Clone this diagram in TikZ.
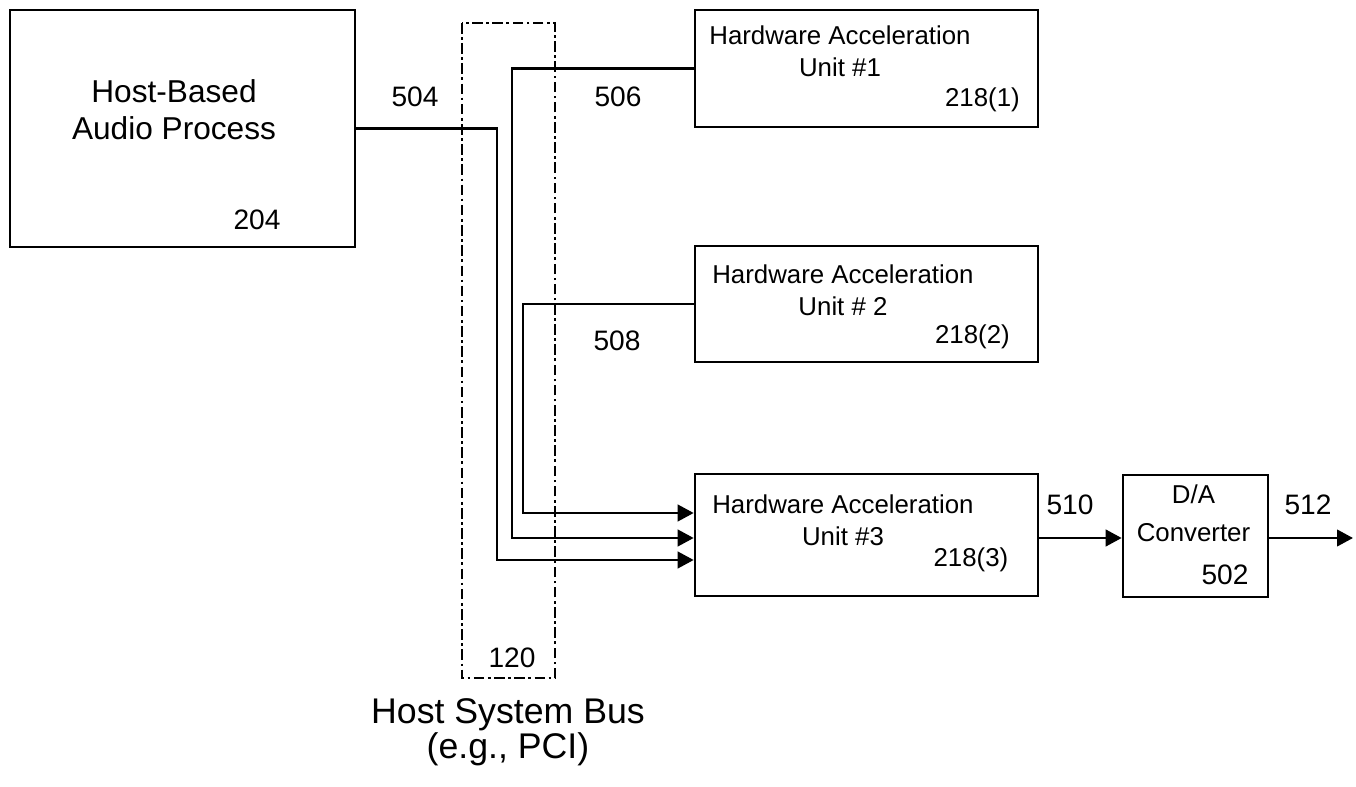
\documentclass[tikz,border=0pt]{standalone}
\usepackage{fontspec}
\setmainfont{Liberation Sans}
\usepackage{tikz}
\usetikzlibrary{positioning, calc, arrows.meta}
\tikzset{
	arrow/.style={line width=1.5pt, -{Triangle[length=3.2mm,width=3.3mm]}},
	box/.style={draw, line width=1.5pt, inner sep=0pt},
	boxtext/.style={font=\fontsize{14.7}{18}\selectfont, align=center},
	num/.style={font=\fontsize{16}{18}\selectfont},
}

\begin{document}
\begin{tikzpicture}
			\useasboundingbox (0,0) rectangle (27.12,15.72);

			% blocks
			\node[box, minimum width=6.9cm, minimum height=4.74cm] (host) at (3.65,13.15) {};
			\node[align=center, font=\fontsize{18}{21}\selectfont] (hosttxt) at (3.48,13.52) {Host-Based\\Audio Process};
			\node[num] (n204) at (5.14,11.32) {204};

			\node[box, minimum width=6.86cm, minimum height=2.34cm] (hau1) at (17.33,14.35) {};
			\node[boxtext] (hau1txt) at (16.8,14.7) {Hardware Acceleration\\Unit \#1};
			\node[boxtext, anchor=east] (n2181) at (20.52,13.72) {218(1)};

			\node[box, minimum width=6.86cm, minimum height=2.32cm] (hau2) at (17.33,9.64) {};
			\node[boxtext] (hau2txt) at (16.86,9.92) {Hardware Acceleration\\Unit \# 2};
			\node[boxtext, anchor=east] (n2182) at (20.32,8.98) {218(2)};

			\node[box, minimum width=6.86cm, minimum height=2.44cm] (hau3) at (17.33,5.02) {};
			\node[boxtext] (hau3txt) at (16.86,5.32) {Hardware Acceleration\\Unit \#3};
			\node[boxtext, anchor=east] (n2183) at (20.29,4.52) {218(3)};

			\node[box, minimum width=2.9cm, minimum height=2.44cm] (da) at (23.91,5.0) {};
			\node[boxtext, font=\fontsize{14.7}{21.5}\selectfont] (datxt) at (23.87,5.46) {D/A\\Converter};
			\node[num] (n502) at (24.5,4.22) {502};

			% host system bus
			\draw[line width=1.5pt, dash pattern=on 6pt off 2pt on 1.5pt off 2pt] (9.24,15.26) rectangle (11.1,2.16);
			\node[num] (n120) at (10.24,2.56) {120};
			\node[align=center, font=\fontsize{20.3}{18}\selectfont] (bustxt) at (10.16,1.08) {Host System Bus\\(e.g., PCI)};

			% bus lines
			\coordinate (x504) at (9.94,0);
			\coordinate (x506) at (10.24,0);
			\coordinate (x508) at (10.46,0);
			\coordinate (in1) at ($(hau3.west)+(0,0.44)$);
			\coordinate (in2) at ($(hau3.west)+(0,-0.06)$);
			\coordinate (in3) at ($(hau3.west)+(0,-0.5)$);
			\coordinate (out) at (27.06,4.96);

			\draw[arrow] (host.east) -- (host.east -| x504) |- (in3);
			\draw[arrow] (hau1.west) -- (hau1.west -| x506) |- (in2);
			\draw[arrow] (hau2.west) -- (hau2.west -| x508) |- (in1);
			\draw[arrow] (hau3.east |- out) -- (da.west |- out);
			\draw[arrow] (da.east |- out) -- (out);

			\node[num] (n504) at (8.3,13.78) {504};
			\node[num] (n506) at (12.36,13.78) {506};
			\node[num] (n508) at (12.34,8.9) {508};
			\node[num] (n510) at (21.4,5.62) {510};
			\node[num] (n512) at (26.16,5.62) {512};
		\end{tikzpicture}
\end{document}
